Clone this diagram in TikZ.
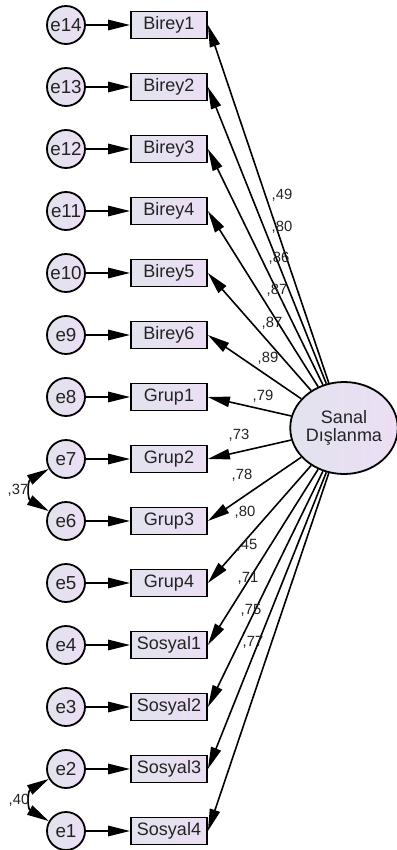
\documentclass[tikz,border=0pt]{standalone}
\usepackage{fontspec}
\setmainfont{Liberation Sans}
\usetikzlibrary{arrows.meta,shapes.geometric}
\definecolor{lilac}{RGB}{236,222,244}
\definecolor{greyblue}{RGB}{226,227,238}
\definecolor{inkgrey}{RGB}{35,35,35}

\begin{document}
\begin{tikzpicture}[x=0.5pt,y=0.5pt,line width=0.8pt,>={Triangle[length=11pt,width=5.2pt]}]
    \tikzstyle{error}=[circle,draw,line width=0.9pt,minimum size=19pt,inner sep=0pt,left color=greyblue,right color=lilac,text=inkgrey,font=\fontsize{9.4}{10}\selectfont]
    \tikzstyle{item}=[rectangle,draw,line width=0.9pt,minimum width=38pt,minimum height=13.5pt,inner sep=0pt,left color=greyblue,right color=lilac,text=inkgrey,font=\fontsize{9}{10}\selectfont]
    \tikzstyle{factor}=[ellipse,draw,line width=0.9pt,minimum width=51pt,minimum height=46pt,inner sep=0pt,align=center,left color=greyblue,right color=lilac,text=inkgrey,font=\fontsize{9}{9.2}\selectfont]
    \tikzstyle{path}=[->]
    \tikzstyle{cov}=[<->,looseness=1.5]
    \tikzstyle{coef}=[inner sep=0pt,text=inkgrey,font=\fontsize{7.4}{8}\selectfont]

    \useasboundingbox (0,0) rectangle (396,-850);

    % Draw the latent factor
    \node[factor] (SD) at (344,-428) {Sanal\\Dışlanma};

    % Draw the error terms, the items and their paths
    \foreach \name / \err / \y in {Birey1/14/25, Birey2/13/87, Birey3/12/149,
        Birey4/11/211, Birey5/10/273, Birey6/9/335, Grup1/8/397, Grup2/7/459,
        Grup3/6/521, Grup4/5/583, Sosyal1/4/645, Sosyal2/3/707, Sosyal3/2/769,
        Sosyal4/1/831}
    {
        \node[error] (e\err) at (66,-\y) {e\err};
        \node[item] (\name) at (169,-\y) {\name};
        \draw[path] (e\err) -- (\name);
        \draw[path] (SD) -- (\name.east);
    }

    % Annotate the loadings
    \foreach \val / \x / \y [count=\i] in {49/282/195, 80/282/227, 86/279/258,
        87/277/290, 87/272/323, 89/268/358, 79/263/396, 73/239/435, 78/242/475,
        80/245/512, 45/247/545, 71/248/578, 75/251/610, 77/253/642}
        \node[coef] (c-\i) at (\x,-\y) {,\val};

    % Correlated errors
    \draw[cov] (e7) to[out=210,in=150] (e6);
    \draw[cov] (e2) to[out=210,in=150] (e1);
    \node[coef] (r-76) at (18,-490) {,37};
    \node[coef] (r-21) at (19,-800) {,40};
\end{tikzpicture}
\end{document}
